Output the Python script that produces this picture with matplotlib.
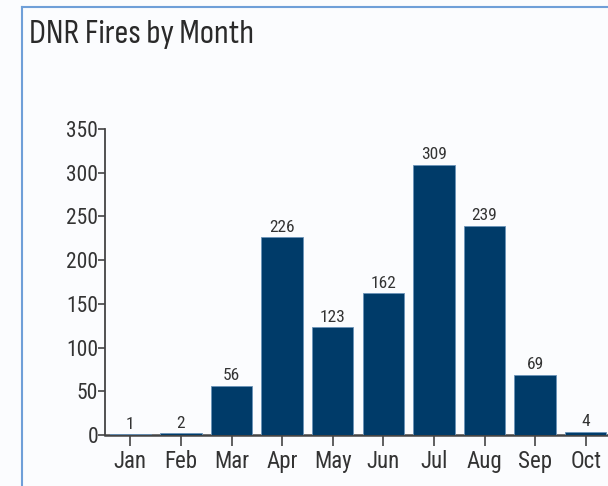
import matplotlib
matplotlib.use("Agg")
import matplotlib.pyplot as plt
from matplotlib.lines import Line2D

months = ["Jan", "Feb", "Mar", "Apr", "May", "Jun", "Jul", "Aug", "Sep", "Oct"]
fires = [1, 2, 56, 226, 123, 162, 309, 239, 69, 4]
y_ticks = [0, 50, 100, 150, 200, 250, 300, 350]

bar_color = "#003b69"
text_color = "#333333"
narrow = ["Roboto Condensed", "DejaVu Sans"]

fig = plt.figure(figsize=(6.08, 4.86), dpi=100)
fig.patch.set_facecolor("#fbfcfe")

# frame lines of the panel (left and top)
fig.add_artist(Line2D([22 / 608, 22 / 608], [0, 1 - 7 / 486], color="#6f9fd8", lw=1.5))
fig.add_artist(Line2D([22 / 608, 1], [1 - 7 / 486, 1 - 7 / 486], color="#6f9fd8", lw=1.5))

fig.text(29 / 608, 1 - 43 / 486, "DNR Fires by Month", fontsize=24.8, family=["Sofia Sans Condensed", "DejaVu Sans"],
         weight="medium", color="#2a2a2a", va="baseline", ha="left")

ax = fig.add_axes([105 / 608, 1 - 435 / 486, 506 / 608, (435 - 129) / 486])
ax.set_facecolor("none")
x = list(range(len(months)))
ax.bar(x, fires, width=0.82, color=bar_color, edgecolor="#6b93b8", linewidth=0.6, zorder=2)
for xi, v in zip(x, fires):
    ax.text(xi, v + 3, str(v), ha="center", va="bottom", fontsize=12.5, family=narrow, color=text_color)

ax.set_xlim(-0.5, len(months) - 0.5)
ax.set_ylim(0, 350)
ax.set_yticks(y_ticks)
ax.set_xticks(x)
ax.set_xticklabels(months)
for s in ["top", "right"]:
    ax.spines[s].set_visible(False)
ax.spines["left"].set_color("#444444")
ax.spines["left"].set_linewidth(1.3)
ax.spines["bottom"].set_color("#444444")
ax.spines["bottom"].set_linewidth(1.8)
ax.spines["bottom"].set_zorder(1)
ax.tick_params(axis="y", length=5, width=1.2, color="#444444", pad=0, labelsize=15.5, labelcolor=text_color)
ax.tick_params(axis="x", length=8, width=1.2, color="#444444", pad=3, labelsize=16.5, labelcolor=text_color)
for lab in ax.get_xticklabels() + ax.get_yticklabels():
    lab.set_family(narrow)

fig.savefig("out.png", dpi=100, facecolor=fig.get_facecolor())
